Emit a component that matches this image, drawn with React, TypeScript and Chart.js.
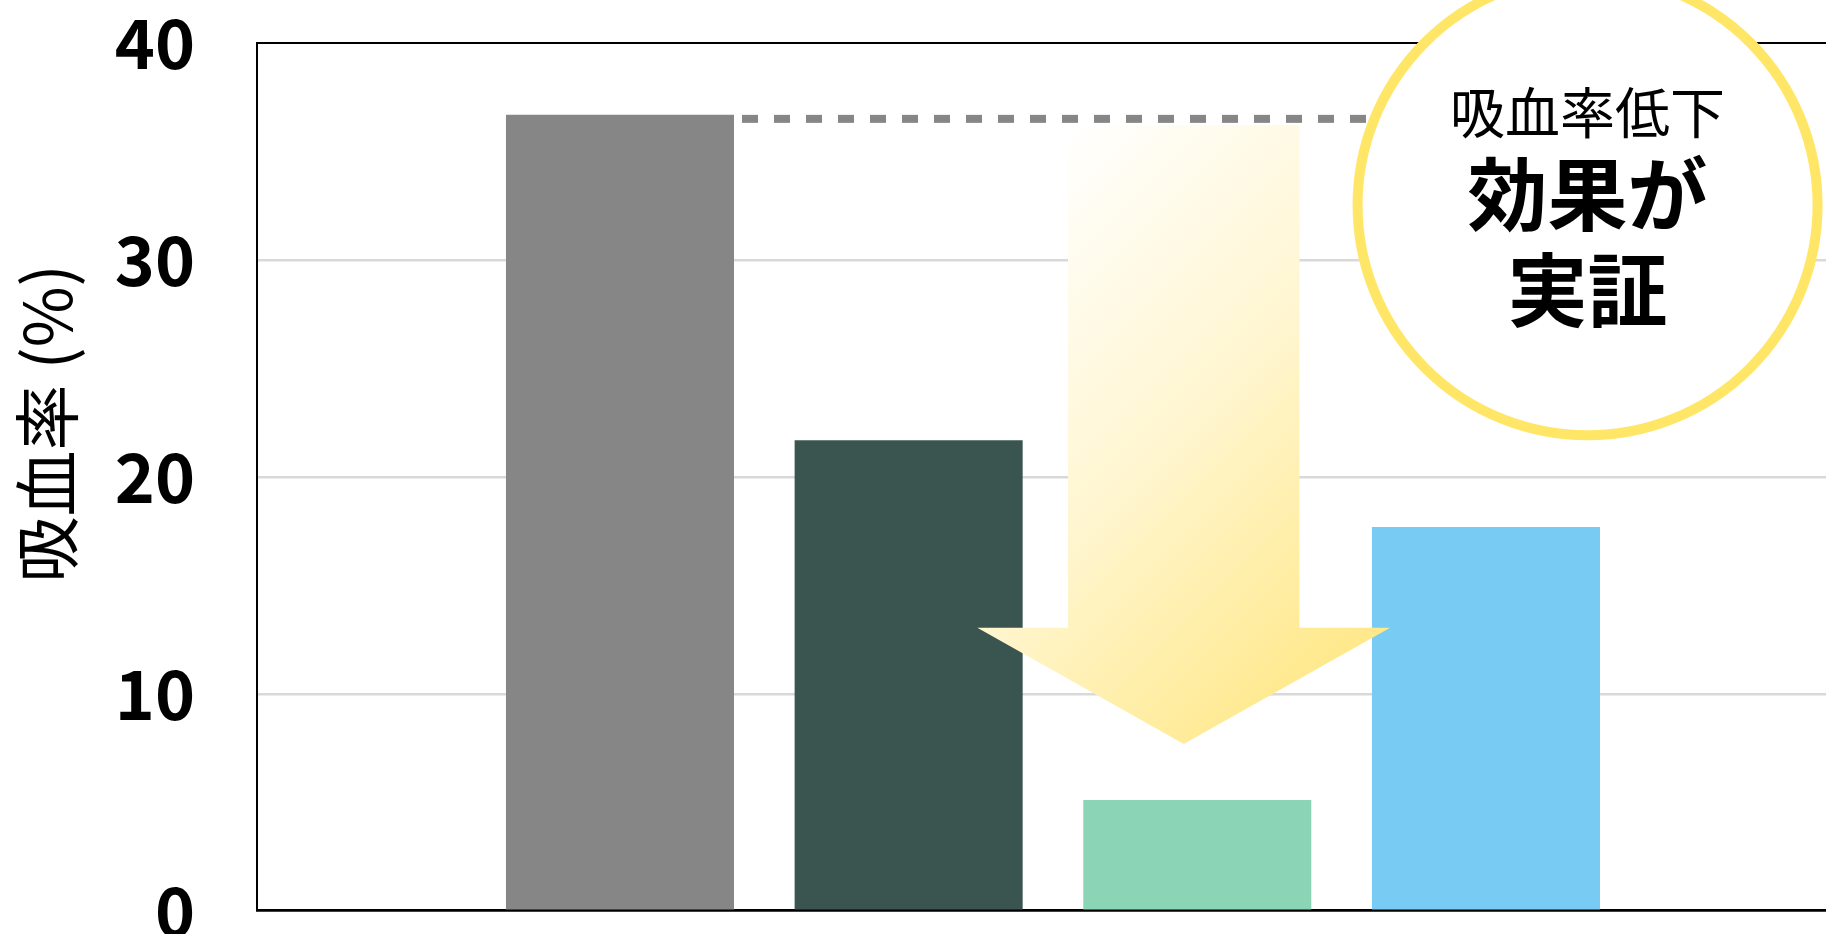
import React, { useEffect, useRef } from "react";
import { Chart, registerables } from "chart.js";

Chart.register(...registerables);

// ---- data ----
const groupPositions = [1, 2, 3, 4];
const bloodSuckingRate = [36.7, 21.7, 5.1, 17.7];
const barColors = ["#868686", "#3A544F", "#8BD5B6", "#78CBF2"];
const yTickValues = [0, 10, 20, 30, 40];
const yAxisTitle = "吸血率 (%)";
const badgeLines = ["吸血率低下", "効果が", "実証"];

// ---- layout / annotation geometry ----
const FONT = '"Noto Sans CJK JP", "Noto Sans", sans-serif';
const SHIFT = 70; // canvas is shifted up so the tick-label padding fits above the plot
const CANVAS_H = 1100;
const X_MIN = -0.2575;
const X_MAX = 5.178;
const ARROW = { x: 2.953, shaftHalf: 0.401, headHalf: 0.715, top: 36.23, headBase: 13.05, tip: 7.69 };
const BADGE = { x: 4.352, y: 32.53, radius: 230, ring: 10 };

const overlayPlugin = {
  id: "overlay",
  afterDatasetsDraw(chart: any) {
    const { ctx, scales } = chart;
    const xs = scales.x;
    const ys = scales.y;
    const meta = chart.getDatasetMeta(0);
    const first: any = meta.data[0];

    // dashed reference line from the first bar's top
    const lineY = first.y + 4;
    const startX = first.x + first.width / 2 + 8;
    const endX = xs.getPixelForValue(BADGE.x);
    ctx.save();
    ctx.strokeStyle = "#868686";
    ctx.lineWidth = 8;
    ctx.setLineDash([16, 16]);
    ctx.lineCap = "butt";
    ctx.beginPath();
    ctx.moveTo(startX, lineY);
    ctx.lineTo(endX, lineY);
    ctx.stroke();
    ctx.restore();

    // down arrow with gradient
    const cx = xs.getPixelForValue(ARROW.x);
    const sl = xs.getPixelForValue(ARROW.x - ARROW.shaftHalf);
    const sr = xs.getPixelForValue(ARROW.x + ARROW.shaftHalf);
    const hl = xs.getPixelForValue(ARROW.x - ARROW.headHalf);
    const hr = xs.getPixelForValue(ARROW.x + ARROW.headHalf);
    const top = ys.getPixelForValue(ARROW.top);
    const base = ys.getPixelForValue(ARROW.headBase);
    const tip = ys.getPixelForValue(ARROW.tip);
    const g = ctx.createLinearGradient(sl, top, sl + 415, top + 415);
    g.addColorStop(0, "#FFFFFF");
    g.addColorStop(0.5, "#FFF6D0");
    g.addColorStop(1, "#FFE888");
    ctx.save();
    ctx.fillStyle = g;
    ctx.beginPath();
    ctx.moveTo(sl, top);
    ctx.lineTo(sr, top);
    ctx.lineTo(sr, base);
    ctx.lineTo(hr, base);
    ctx.lineTo(cx, tip);
    ctx.lineTo(hl, base);
    ctx.lineTo(sl, base);
    ctx.closePath();
    ctx.fill();
    ctx.restore();
  },
  afterDraw(chart: any) {
    const { ctx, scales, chartArea } = chart;
    const xs = scales.x;
    const ys = scales.y;

    // badge circle
    const bx = xs.getPixelForValue(BADGE.x);
    const by = ys.getPixelForValue(BADGE.y);
    ctx.save();
    ctx.beginPath();
    ctx.arc(bx, by, BADGE.radius, 0, Math.PI * 2);
    ctx.fillStyle = "#FFFFFF";
    ctx.fill();
    ctx.lineWidth = BADGE.ring;
    ctx.strokeStyle = "#FFE666";
    ctx.stroke();

    ctx.fillStyle = "#000000";
    ctx.textAlign = "center";
    ctx.textBaseline = "middle";
    ctx.font = `400 55px ${FONT}`;
    ctx.fillText(badgeLines[0], bx, by - 93);
    ctx.font = `700 80px ${FONT}`;
    ctx.fillText(badgeLines[1], bx, by - 12);
    ctx.fillText(badgeLines[2], bx, by + 84);
    ctx.restore();

    // y-axis title
    ctx.save();
    ctx.translate(47, chartArea.top + 380);
    ctx.rotate(-Math.PI / 2);
    ctx.fillStyle = "#000000";
    ctx.textAlign = "center";
    ctx.textBaseline = "middle";
    ctx.font = `400 66px ${FONT}`;
    ctx.fillText(yAxisTitle, 0, 0);
    ctx.restore();
  },
};

export default function App() {
  const canvasRef = useRef<HTMLCanvasElement | null>(null);

  useEffect(() => {
    const canvas = canvasRef.current;
    if (!canvas) return;
    const chart = new Chart(canvas, {
      type: "bar",
      data: {
        datasets: [
          {
            label: yAxisTitle,
            data: groupPositions.map((g, i) => ({ x: g, y: bloodSuckingRate[i] })) as any,
            backgroundColor: barColors,
            borderWidth: 0,
            barPercentage: 0.79,
            categoryPercentage: 1,
          },
        ],
      },
      options: {
        responsive: false,
        animation: false,
        devicePixelRatio: 1,
        layout: { padding: { top: 43.3 + SHIFT, bottom: CANVAS_H - 910.7 - SHIFT, left: 0, right: 0 } },
        plugins: {
          legend: { display: false },
          tooltip: { enabled: false },
          title: { display: false },
        },
        scales: {
          x: {
            type: "linear",
            offset: false,
            min: X_MIN,
            max: X_MAX,
            afterBuildTicks: (scale: any) => {
              scale.ticks = groupPositions.map((v) => ({ value: v }));
            },
            ticks: { display: false },
            grid: { display: false, drawTicks: false },
            border: { display: true, color: "#000000", width: 2.5 },
          },
          y: {
            min: 0,
            max: 40,
            afterBuildTicks: (scale: any) => {
              scale.ticks = yTickValues.map((v) => ({ value: v }));
            },
            afterFit: (scale: any) => {
              scale.width = 257;
            },
            ticks: {
              padding: 62,
              color: "#000000",
              font: { family: FONT, size: 68, weight: "bold" },
            },
            grid: {
              drawTicks: false,
              color: (c: any) => (c.tick && (c.tick.value === 40 || c.tick.value === 0) ? "#000000" : "#D9D9D9"),
              lineWidth: (c: any) => (c.tick && c.tick.value === 40 ? 2 : 2.5),
            },
            border: { display: true, color: "#000000", width: 2 },
          },
        },
      },
      plugins: [overlayPlugin],
    } as any);
    return () => chart.destroy();
  }, []);

  return (
    <div
      style={{
        position: "fixed",
        left: 0,
        top: 0,
        width: "1826px",
        height: "934px",
        overflow: "hidden",
        background: "#FFFFFF",
      }}
    >
      <canvas
        ref={canvasRef}
        width={1826}
        height={CANVAS_H}
        style={{ position: "absolute", left: 0, top: `${-SHIFT}px`, width: "1826px", height: `${CANVAS_H}px`, display: "block" }}
      />
    </div>
  );
}
